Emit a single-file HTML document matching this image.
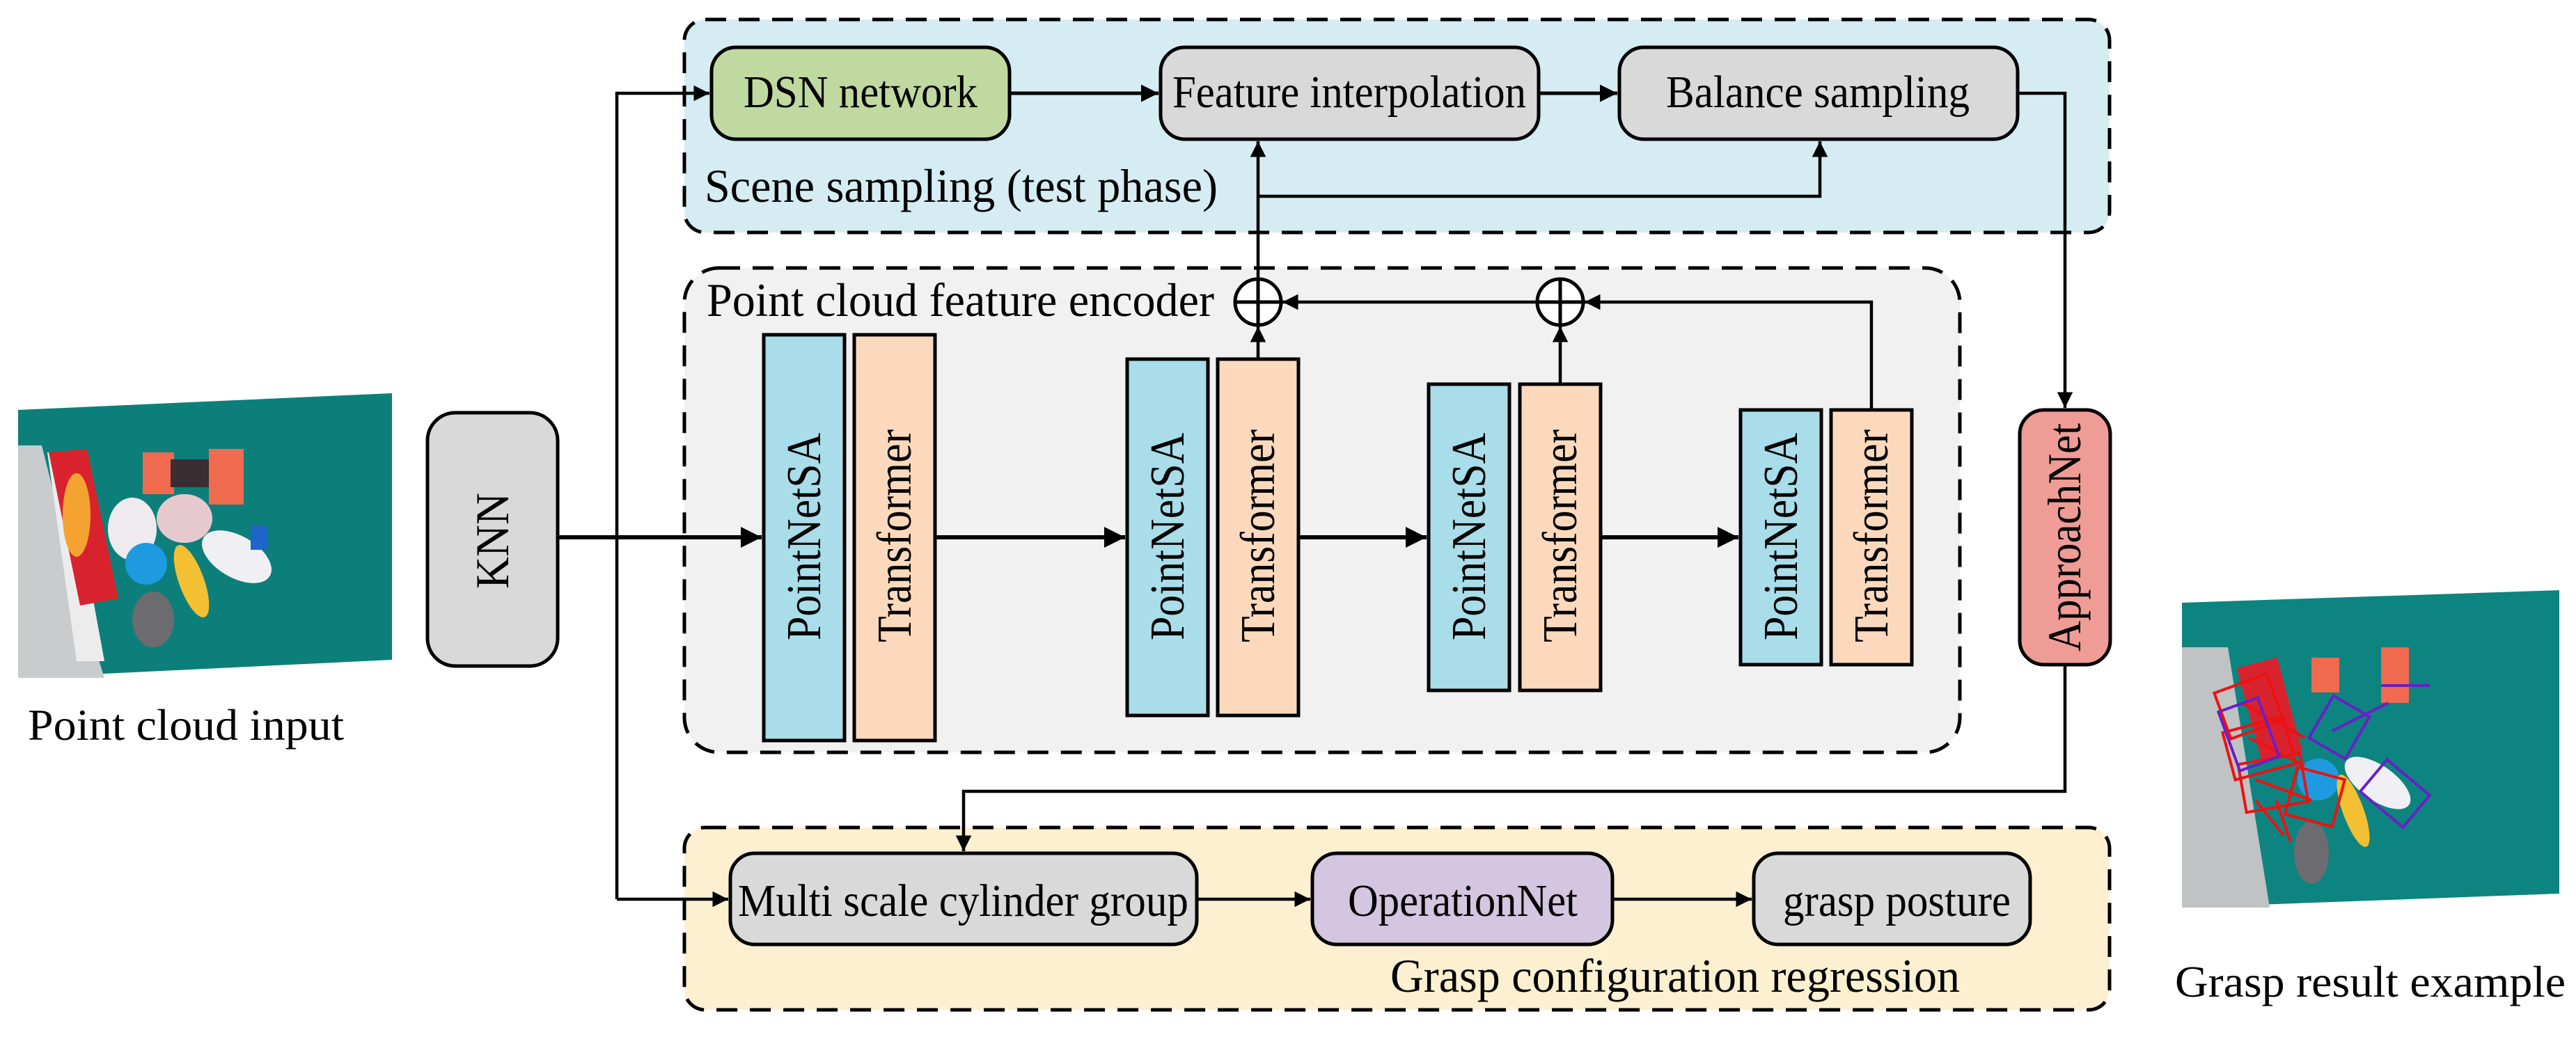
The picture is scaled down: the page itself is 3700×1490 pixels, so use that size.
<!DOCTYPE html>
<html><head><meta charset="utf-8"><style>html,body{margin:0;padding:0;background:#fff}svg{display:block}svg text{font-family:"Liberation Serif","Noto Serif CJK SC","DejaVu Serif","Times New Roman",serif !important;fill:#000}</style></head>
<body>
<svg width="3700" height="1490" viewBox="0 0 3700 1490" xmlns="http://www.w3.org/2000/svg">
<defs>
<marker id="a" viewBox="0 0 10 10" refX="10" refY="5" markerWidth="7" markerHeight="5" markerUnits="strokeWidth" orient="auto"><path d="M0,0 L10,5 L0,10 z" fill="#000"/></marker>
</defs>
<rect x="983" y="28" width="2047" height="306" rx="30" fill="#d5ecf3" stroke="#000" stroke-width="5" stroke-dasharray="30,18"/>
<rect x="983" y="385" width="1832" height="696" rx="50" fill="#f1f1f1" stroke="#000" stroke-width="5" stroke-dasharray="30,18"/>
<rect x="983" y="1189" width="2047" height="262" rx="30" fill="#fdf0d0" stroke="#000" stroke-width="5" stroke-dasharray="30,18"/>

<rect x="1022" y="68" width="428" height="132" rx="35" fill="#c0d9a0" stroke="#000" stroke-width="5"/>
<text x="1068" y="154" font-size="66" textLength="336" lengthAdjust="spacingAndGlyphs">DSN network</text>
<rect x="1667" y="68" width="543" height="132" rx="35" fill="#d9d9d9" stroke="#000" stroke-width="5"/>
<text x="1684" y="154" font-size="66" textLength="508" lengthAdjust="spacingAndGlyphs">Feature interpolation</text>
<rect x="2326" y="68" width="572" height="132" rx="35" fill="#d9d9d9" stroke="#000" stroke-width="5"/>
<text x="2393" y="154" font-size="66" textLength="436" lengthAdjust="spacingAndGlyphs">Balance sampling</text>
<text x="1012" y="290" font-size="68" textLength="737" lengthAdjust="spacingAndGlyphs">Scene sampling (test phase)</text>

<line x1="1450" y1="134" x2="1664" y2="134" stroke="#000" stroke-width="5" marker-end="url(#a)"/>
<line x1="2210" y1="134" x2="2323" y2="134" stroke="#000" stroke-width="5" marker-end="url(#a)"/>

<text x="1015" y="454" font-size="68" textLength="729" lengthAdjust="spacingAndGlyphs">Point cloud feature encoder</text>

<g stroke="#000" stroke-width="5">
<rect x="1097" y="481" width="116" height="583" fill="#a8dde9"/>
<rect x="1227" y="481" width="116" height="583" fill="#fcd9bc"/>
<rect x="1619" y="516" width="116" height="512" fill="#a8dde9"/>
<rect x="1749" y="516" width="116" height="512" fill="#fcd9bc"/>
<rect x="2052" y="552" width="116" height="440" fill="#a8dde9"/>
<rect x="2183" y="552" width="116" height="440" fill="#fcd9bc"/>
<rect x="2500" y="589" width="116" height="366" fill="#a8dde9"/>
<rect x="2630" y="589" width="116" height="366" fill="#fcd9bc"/>
</g>
<g font-size="70">
<text transform="translate(1178,920) rotate(-90)" textLength="298" lengthAdjust="spacingAndGlyphs">PointNetSA</text>
<text transform="translate(1308,923) rotate(-90)" textLength="306" lengthAdjust="spacingAndGlyphs">Transformer</text>
<text transform="translate(1700,920) rotate(-90)" textLength="298" lengthAdjust="spacingAndGlyphs">PointNetSA</text>
<text transform="translate(1830,923) rotate(-90)" textLength="306" lengthAdjust="spacingAndGlyphs">Transformer</text>
<text transform="translate(2133,920) rotate(-90)" textLength="298" lengthAdjust="spacingAndGlyphs">PointNetSA</text>
<text transform="translate(2264,923) rotate(-90)" textLength="306" lengthAdjust="spacingAndGlyphs">Transformer</text>
<text transform="translate(2581,920) rotate(-90)" textLength="298" lengthAdjust="spacingAndGlyphs">PointNetSA</text>
<text transform="translate(2711,923) rotate(-90)" textLength="306" lengthAdjust="spacingAndGlyphs">Transformer</text>
</g>

<rect x="614" y="593" width="187" height="364" rx="40" fill="#d9d9d9" stroke="#000" stroke-width="5"/>
<text transform="translate(730,846) rotate(-90)" font-size="68" textLength="138" lengthAdjust="spacingAndGlyphs">KNN</text>

<rect x="2901" y="589" width="130" height="366" rx="35" fill="#ef9c96" stroke="#000" stroke-width="5"/>
<text transform="translate(2988,936) rotate(-90)" font-size="68" textLength="328" lengthAdjust="spacingAndGlyphs">ApproachNet</text>

<g stroke="#000" stroke-width="6" fill="none">
<line x1="801" y1="772" x2="1094" y2="772" marker-end="url(#a)"/>
<line x1="1343" y1="772" x2="1616" y2="772" marker-end="url(#a)"/>
<line x1="1865" y1="772" x2="2049" y2="772" marker-end="url(#a)"/>
<line x1="2299" y1="772" x2="2497" y2="772" marker-end="url(#a)"/>
</g>
<g stroke="#000" stroke-width="4.5" fill="none">
<polyline points="886,1292 886,134 1019,134" marker-end="url(#a)"/>
<line x1="886" y1="1292" x2="1046" y2="1292" marker-end="url(#a)"/>
<line x1="1807" y1="516" x2="1807" y2="469" marker-end="url(#a)"/>
<line x1="2241" y1="552" x2="2241" y2="469" marker-end="url(#a)"/>
<polyline points="2688,589 2688,434 2276,434" marker-end="url(#a)"/>
<line x1="2206" y1="434" x2="1842" y2="434" marker-end="url(#a)"/>
<line x1="1807" y1="399" x2="1807" y2="203" marker-end="url(#a)"/>
<polyline points="1807,282 2614,282 2614,203" marker-end="url(#a)"/>
<polyline points="2898,134 2966,134 2966,586" marker-end="url(#a)"/>
<polyline points="2966,955 2966,1137 1384,1137 1384,1223" marker-end="url(#a)"/>
<line x1="1719" y1="1292" x2="1882" y2="1292" marker-end="url(#a)"/>
<line x1="2316" y1="1292" x2="2516" y2="1292" marker-end="url(#a)"/>
</g>
<g stroke="#000" stroke-width="5" fill="#fff">
<circle cx="1807" cy="434" r="33"/>
<circle cx="2241" cy="434" r="33"/>
</g>
<g stroke="#000" stroke-width="5">
<line x1="1774" y1="434" x2="1840" y2="434"/><line x1="1807" y1="401" x2="1807" y2="467"/>
<line x1="2208" y1="434" x2="2274" y2="434"/><line x1="2241" y1="401" x2="2241" y2="467"/>
</g>

<rect x="1049" y="1226" width="670" height="131" rx="35" fill="#d9d9d9" stroke="#000" stroke-width="5"/>
<text x="1060" y="1316" font-size="66" textLength="647" lengthAdjust="spacingAndGlyphs">Multi scale cylinder group</text>
<rect x="1885" y="1226" width="431" height="131" rx="35" fill="#d4c6e0" stroke="#000" stroke-width="5"/>
<text x="1936" y="1316" font-size="66" textLength="330" lengthAdjust="spacingAndGlyphs">OperationNet</text>
<rect x="2519" y="1226" width="397" height="131" rx="35" fill="#d9d9d9" stroke="#000" stroke-width="5"/>
<text x="2561" y="1316" font-size="66" textLength="327" lengthAdjust="spacingAndGlyphs">grasp posture</text>
<text x="1997" y="1425" font-size="68" textLength="818" lengthAdjust="spacingAndGlyphs">Grasp configuration regression</text>

<polygon points="26,589 563,565 563,948 26,974" fill="#0d7f7a"/>
<polygon points="26,640 60,640 120,880 150,974 26,974" fill="#c9cccd"/>
<polygon points="68,650 95,650 150,950 110,950" fill="#ececec"/>
<polygon points="70,650 125,645 170,860 115,870" fill="#d8232e"/>
<ellipse cx="110" cy="740" rx="20" ry="60" fill="#f4a232"/>
<rect x="205" y="650" width="45" height="60" fill="#ef6a4f"/>
<rect x="245" y="660" width="60" height="40" fill="#3a2e33"/>
<rect x="300" y="645" width="50" height="80" fill="#ef6a4f"/>
<ellipse cx="190" cy="760" rx="35" ry="45" fill="#eeeaee"/>
<ellipse cx="265" cy="745" rx="40" ry="35" fill="#e6c9cf"/>
<ellipse cx="210" cy="810" rx="30" ry="30" fill="#1e9be0"/>
<ellipse cx="340" cy="800" rx="55" ry="30" transform="rotate(30 340 800)" fill="#f0f0f4"/>
<ellipse cx="275" cy="835" rx="18" ry="55" transform="rotate(-20 275 835)" fill="#f2c032"/>
<ellipse cx="220" cy="890" rx="30" ry="40" fill="#6c6c70"/>
<rect x="360" y="755" width="25" height="35" fill="#1c66c8"/>
<text x="40" y="1063" font-size="64" textLength="454" lengthAdjust="spacingAndGlyphs">Point cloud input</text>

<polygon points="3134,866 3676,848 3676,1284 3134,1304" fill="#0d8480"/>
<polygon points="3134,930 3200,930 3260,1304 3134,1304" fill="#bfc3c4"/>
<rect x="3230" y="950" width="60" height="140" fill="#d8232e" transform="rotate(-15 3260 1020)"/>
<rect x="3320" y="945" width="40" height="50" fill="#ef6a4f"/>
<rect x="3420" y="930" width="40" height="80" fill="#ef6a4f"/>
<ellipse cx="3330" cy="1120" rx="30" ry="30" fill="#1e9be0"/>
<ellipse cx="3415" cy="1125" rx="55" ry="25" transform="rotate(35 3415 1125)" fill="#f0f0f4"/>
<ellipse cx="3380" cy="1165" rx="15" ry="55" transform="rotate(-20 3380 1165)" fill="#f2c032"/>
<ellipse cx="3320" cy="1225" rx="25" ry="45" fill="#6c6c70"/>
<g fill="none" stroke="#ee1111" stroke-width="4">
<rect x="3190" y="980" width="80" height="70" transform="rotate(-20 3230 1015)"/>
<rect x="3200" y="1040" width="90" height="70" transform="rotate(-15 3245 1075)"/>
<rect x="3220" y="1090" width="90" height="70" transform="rotate(-10 3265 1125)"/>
<rect x="3290" y="1110" width="70" height="70" transform="rotate(15 3325 1145)"/>
<path d="M3220 1010 L3310 1060 M3230 1060 L3310 1100 M3240 1120 L3320 1150 M3240 1150 L3280 1200 M3270 1150 L3290 1210"/>
</g>
<g fill="none" stroke="#6a1fc8" stroke-width="4">
<rect x="3330" y="1010" width="60" height="70" transform="rotate(30 3360 1045)"/>
<rect x="3400" y="1110" width="80" height="60" transform="rotate(40 3440 1140)"/>
<rect x="3200" y="1010" width="60" height="90" transform="rotate(-20 3230 1055)"/>
<path d="M3420 985 L3490 985 M3350 1050 L3430 1010"/>
</g>
<text x="3124" y="1432" font-size="64" textLength="561" lengthAdjust="spacingAndGlyphs">Grasp result example</text>
</svg>
</body></html>
